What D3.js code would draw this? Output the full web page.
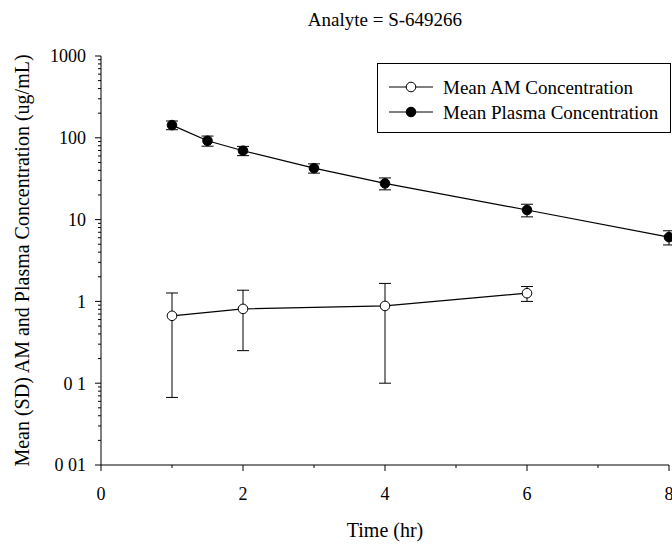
<!DOCTYPE html>
<html>
<head>
<meta charset="utf-8">
<script src="https://cdn.jsdelivr.net/npm/d3@7"></script>
<style>
  body { margin: 0; background: #fff; }
  svg { font-family: "Liberation Serif", "Times New Roman", serif; }
</style>
</head>
<body>
<div id="chart-area"></div>
<script>
// data
var amTime = [1, 2, 4, 6];
var amMean = [0.667, 0.81, 0.88, 1.26];
var amSD = [0.60, 0.56, 0.78, 0.26];

var plasmaTime = [1, 1.5, 2, 3, 4, 6, 8];
var plasmaMean = [143, 92, 69.5, 42.5, 27.7, 13.1, 6.1];
var plasmaSD = [17.5, 13, 9, 5.5, 4.6, 2.3, 1.2];

var xTicks = [0, 2, 4, 6, 8];
var xMinor = [1, 3, 5, 7];
var yTicks = [1000, 100, 10, 1, 0.1, 0.01];
var yTickLabels = ["1000", "100", "10", "1", "0 1", "0 01"];

var seriesNames = ["Mean AM Concentration", "Mean Plasma Concentration"];

var W = 672, H = 544;
var margin = {left: 101, right: 3, top: 56, bottom: 79};
var width = W - margin.left - margin.right,
    height = H - margin.top - margin.bottom;

var svg = d3.select("#chart-area")
  .append("svg")
    .attr("width", W)
    .attr("height", H);

var g = svg.append("g")
    .attr("transform", "translate(" + margin.left + "," + margin.top + ")");

var x = d3.scaleLinear().domain([0, 8]).range([0, width]);
var y = d3.scaleLog().domain([0.01, 1000]).range([height, 0]);

// minor log ticks 2..9 in each decade
var yMinor = [];
yTicks.slice(1).forEach(function(d){
  for (var k = 2; k <= 9; k++) yMinor.push(d * k);
});

// title
svg.append("text")
  .attr("x", margin.left + width / 2)
  .attr("y", 26)
  .attr("text-anchor", "middle")
  .attr("font-size", "19px")
  .text("Analyte = S-649266");

// y axis
g.append("line")
  .attr("x1", 0).attr("x2", 0).attr("y1", 0).attr("y2", height)
  .attr("stroke", "#000");
g.selectAll(".ymaj").data(yTicks).enter().append("line")
  .attr("x1", -6).attr("x2", 0)
  .attr("y1", function(d){ return y(d); })
  .attr("y2", function(d){ return y(d); })
  .attr("stroke", "#000");
g.selectAll(".ymin").data(yMinor).enter().append("line")
  .attr("x1", -3).attr("x2", 0)
  .attr("y1", function(d){ return y(d); })
  .attr("y2", function(d){ return y(d); })
  .attr("stroke", "#000");
g.selectAll(".ylab").data(yTicks).enter().append("text")
  .attr("x", -15)
  .attr("y", function(d){ return y(d); })
  .attr("dy", "0.35em")
  .attr("text-anchor", "end")
  .attr("font-size", "18px")
  .text(function(d, i){ return yTickLabels[i]; });

// x axis
g.append("line")
  .attr("x1", 0).attr("x2", width).attr("y1", height).attr("y2", height)
  .attr("stroke", "#000");
g.selectAll(".xmaj").data(xTicks).enter().append("line")
  .attr("x1", function(d){ return x(d); })
  .attr("x2", function(d){ return x(d); })
  .attr("y1", height).attr("y2", height + 6)
  .attr("stroke", "#000");
g.selectAll(".xmin").data(xMinor).enter().append("line")
  .attr("x1", function(d){ return x(d); })
  .attr("x2", function(d){ return x(d); })
  .attr("y1", height).attr("y2", height + 3)
  .attr("stroke", "#000");
g.selectAll(".xlab").data(xTicks).enter().append("text")
  .attr("x", function(d){ return x(d); })
  .attr("y", height + 35)
  .attr("text-anchor", "middle")
  .attr("font-size", "18px")
  .text(function(d){ return d; });

// axis titles
svg.append("text")
  .attr("x", margin.left + width / 2)
  .attr("y", H - 7)
  .attr("text-anchor", "middle")
  .attr("font-size", "20px")
  .text("Time (hr)");

svg.append("text")
  .attr("transform", "translate(29," + (margin.top + height / 2) + ") rotate(-90)")
  .attr("text-anchor", "middle")
  .attr("font-size", "20px")
  .text("Mean (SD) AM and Plasma Concentration (ug/mL)");

function drawSeries(times, means, sds, fill) {
  var pts = times.map(function(t, i){
    return {t: t, m: means[i], sd: sds[i]};
  });
  var line = d3.line()
    .x(function(d){ return x(d.t); })
    .y(function(d){ return y(d.m); });
  g.append("path")
    .datum(pts)
    .attr("d", line)
    .attr("fill", "none")
    .attr("stroke", "#000")
    .attr("stroke-width", 1.2);

  var eb = g.append("g");
  pts.forEach(function(d){
    var cx = x(d.t), lo = y(d.m - d.sd), hi = y(d.m + d.sd);
    eb.append("line").attr("x1", cx).attr("x2", cx).attr("y1", lo).attr("y2", hi)
      .attr("stroke", "#000");
    eb.append("line").attr("x1", cx - 6).attr("x2", cx + 6).attr("y1", lo).attr("y2", lo)
      .attr("stroke", "#000");
    eb.append("line").attr("x1", cx - 6).attr("x2", cx + 6).attr("y1", hi).attr("y2", hi)
      .attr("stroke", "#000");
  });

  g.selectAll(null).data(pts).enter().append("circle")
    .attr("cx", function(d){ return x(d.t); })
    .attr("cy", function(d){ return y(d.m); })
    .attr("r", 4.8)
    .attr("fill", fill)
    .attr("stroke", "#000")
    .attr("stroke-width", 1);
}

drawSeries(amTime, amMean, amSD, "#fff");
drawSeries(plasmaTime, plasmaMean, plasmaSD, "#000");

// legend
var legend = svg.append("g").attr("transform", "translate(377,63)");
legend.append("rect")
  .attr("x", 0.5).attr("y", 0.5)
  .attr("width", 293).attr("height", 69)
  .attr("fill", "#fff")
  .attr("stroke", "#000");
var fills = ["#fff", "#000"];
seriesNames.forEach(function(name, i){
  var ly = 24 + i * 25;
  legend.append("line")
    .attr("x1", 12).attr("x2", 56).attr("y1", ly).attr("y2", ly)
    .attr("stroke", "#000");
  legend.append("circle")
    .attr("cx", 34).attr("cy", ly).attr("r", 4.8)
    .attr("fill", fills[i]).attr("stroke", "#000");
  legend.append("text")
    .attr("x", 66).attr("y", ly)
    .attr("dy", "0.35em")
    .attr("font-size", "19px")
    .text(name);
});
</script>
</body>
</html>
